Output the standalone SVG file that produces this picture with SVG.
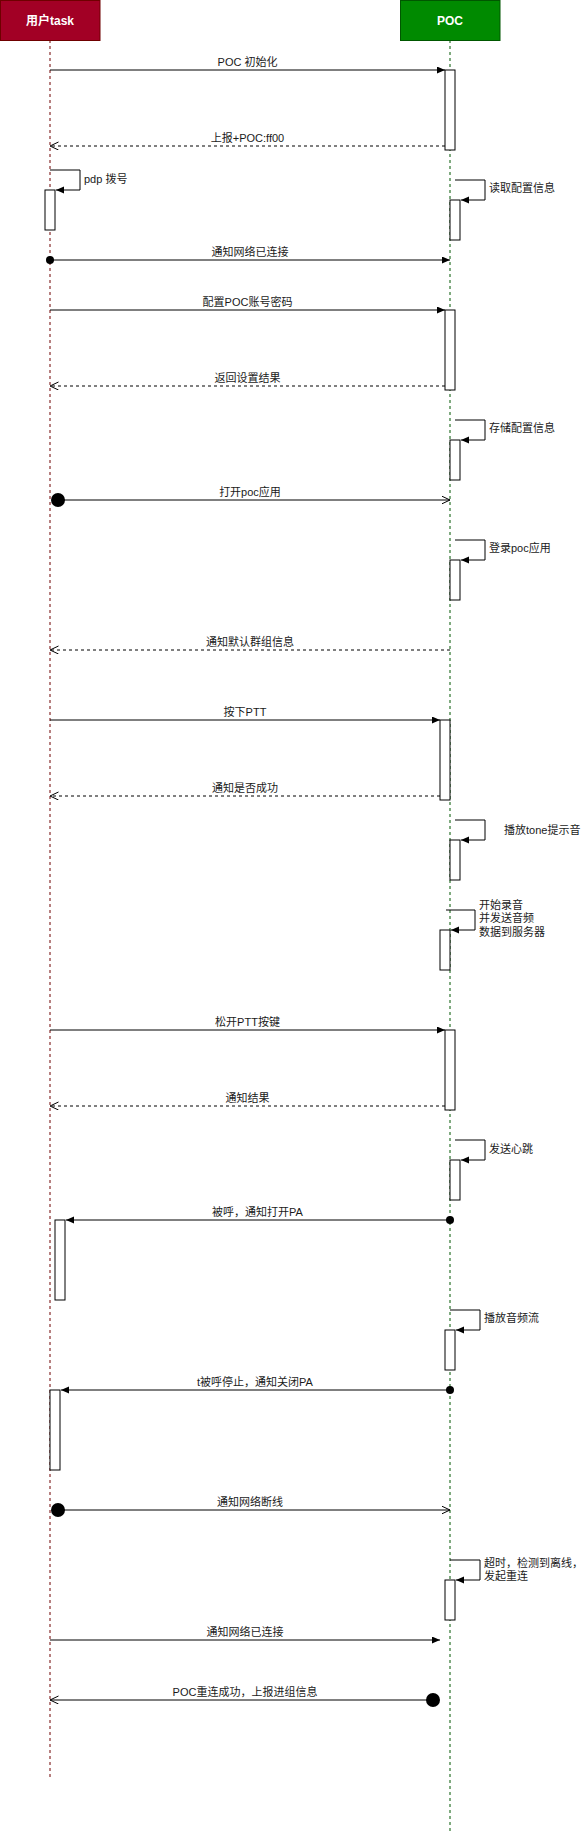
<svg xmlns="http://www.w3.org/2000/svg" width="584" height="1831" viewBox="0 0 584 1831">
<style>
.hdr{stroke-width:1}
.htxt{font-family:"Liberation Sans","Noto Sans CJK SC",sans-serif;font-size:12px;font-weight:bold;fill:#fff;text-anchor:middle}
.lbl{font-family:"Liberation Sans","Noto Sans CJK SC",sans-serif;font-size:11px;fill:#1a1a1a;text-anchor:middle}
.side{font-family:"Liberation Sans","Noto Sans CJK SC",sans-serif;font-size:11px;fill:#1a1a1a;text-anchor:start}
.act{fill:#fff;stroke:#000;stroke-width:1}
.msg{stroke:#000;stroke-width:1;fill:none}
.ret{stroke:#000;stroke-width:1;fill:none;stroke-dasharray:3 3}
.life{stroke-width:1;stroke-dasharray:3 3;fill:none}
</style>
<defs>
<marker id="block" markerUnits="userSpaceOnUse" markerWidth="10" markerHeight="9" refX="8" refY="3.5" orient="auto">
<path d="M0,0 L8,3.5 L0,7 z" fill="#000"/>
</marker>
<marker id="open" markerUnits="userSpaceOnUse" markerWidth="11" markerHeight="10" refX="8.5" refY="4" orient="auto">
<path d="M0,0 L8.5,4 L0,8" fill="none" stroke="#000" stroke-width="1"/>
</marker>
</defs>
<rect width="584" height="1831" fill="#fff"/>
<g id="user">
<line class="life" x1="50" y1="40" x2="50" y2="1778" stroke="#6F0000"/>
<rect class="hdr" x="0.5" y="0.5" width="99.5" height="40" fill="#a20025" stroke="#6F0000"/>
<text class="htxt" x="50" y="25">用户task</text>
</g>
<g id="poc">
<line class="life" x1="450" y1="40" x2="450" y2="1831" stroke="#005700"/>
<rect class="hdr" x="400.5" y="0.5" width="99.5" height="40" fill="#008a00" stroke="#005700"/>
<text class="htxt" x="450" y="25">POC</text>
</g>
<g id="activations">
<rect class="act" x="445" y="70" width="10" height="80"/>
<rect class="act" x="45" y="190" width="10" height="40"/>
<rect class="act" x="450" y="200" width="10" height="40"/>
<rect class="act" x="445" y="310" width="10" height="80"/>
<rect class="act" x="450" y="440" width="10" height="40"/>
<rect class="act" x="450" y="560" width="10" height="40"/>
<rect class="act" x="440" y="720" width="10" height="80"/>
<rect class="act" x="450" y="840" width="10" height="40"/>
<rect class="act" x="440" y="930" width="10" height="40"/>
<rect class="act" x="445" y="1030" width="10" height="80"/>
<rect class="act" x="450" y="1160" width="10" height="40"/>
<rect class="act" x="55" y="1220" width="10" height="80"/>
<rect class="act" x="445" y="1330" width="10" height="40"/>
<rect class="act" x="50" y="1390" width="10" height="80"/>
<rect class="act" x="445" y="1580" width="10" height="40"/>
</g>
<g id="connectors">
<line class="msg" x1="50" y1="70" x2="445" y2="70" marker-end="url(#block)"/>
<line class="ret" x1="445" y1="146" x2="50" y2="146" marker-end="url(#open)"/>
<polyline class="msg" points="50,170 80,170 80,190 56,190" marker-end="url(#block)"/>
<polyline class="msg" points="455,180 485,180 485,200 461,200" marker-end="url(#block)"/>
<circle cx="50" cy="260" r="4" fill="#000"/>
<line class="msg" x1="50" y1="260" x2="450" y2="260" marker-end="url(#block)"/>
<line class="msg" x1="50" y1="310" x2="445" y2="310" marker-end="url(#block)"/>
<line class="ret" x1="445" y1="386" x2="50" y2="386" marker-end="url(#open)"/>
<polyline class="msg" points="455,420 485,420 485,440 461,440" marker-end="url(#block)"/>
<circle cx="58" cy="500" r="7" fill="#000"/>
<line class="msg" x1="58" y1="500" x2="450" y2="500" marker-end="url(#open)"/>
<polyline class="msg" points="455,540 485,540 485,560 461,560" marker-end="url(#block)"/>
<line class="ret" x1="450" y1="650" x2="50" y2="650" marker-end="url(#open)"/>
<line class="msg" x1="50" y1="720" x2="440" y2="720" marker-end="url(#block)"/>
<line class="ret" x1="440" y1="796" x2="50" y2="796" marker-end="url(#open)"/>
<polyline class="msg" points="455,820 485,820 485,840 461,840" marker-end="url(#block)"/>
<polyline class="msg" points="446,910 475,910 475,930 451,930" marker-end="url(#block)"/>
<line class="msg" x1="50" y1="1030" x2="445" y2="1030" marker-end="url(#block)"/>
<line class="ret" x1="445" y1="1106" x2="50" y2="1106" marker-end="url(#open)"/>
<polyline class="msg" points="455,1140 485,1140 485,1160 461,1160" marker-end="url(#block)"/>
<circle cx="450" cy="1220" r="4" fill="#000"/>
<line class="msg" x1="450" y1="1220" x2="66" y2="1220" marker-end="url(#block)"/>
<polyline class="msg" points="450,1310 480,1310 480,1330 456,1330" marker-end="url(#block)"/>
<circle cx="450" cy="1390" r="4" fill="#000"/>
<line class="msg" x1="450" y1="1390" x2="61" y2="1390" marker-end="url(#block)"/>
<circle cx="58" cy="1510" r="7" fill="#000"/>
<line class="msg" x1="58" y1="1510" x2="450" y2="1510" marker-end="url(#open)"/>
<polyline class="msg" points="450,1560 480,1560 480,1580 456,1580" marker-end="url(#block)"/>
<line class="msg" x1="50" y1="1640" x2="440" y2="1640" marker-end="url(#block)"/>
<circle cx="433" cy="1700" r="7" fill="#000"/>
<line class="msg" x1="433" y1="1700" x2="50" y2="1700" marker-end="url(#open)"/>
</g>
<g id="labels">
<text class="lbl" x="247.5" y="66">POC 初始化</text>
<text class="lbl" x="247.5" y="142">上报+POC:ff00</text>
<text class="side" x="84" y="183">pdp 拨号</text>
<text class="side" x="489" y="192">读取配置信息</text>
<text class="lbl" x="250" y="256">通知网络已连接</text>
<text class="lbl" x="247.5" y="306">配置POC账号密码</text>
<text class="lbl" x="247.5" y="382">返回设置结果</text>
<text class="side" x="489" y="432">存储配置信息</text>
<text class="lbl" x="250" y="496">打开poc应用</text>
<text class="side" x="489" y="552">登录poc应用</text>
<text class="lbl" x="250" y="646">通知默认群组信息</text>
<text class="lbl" x="245" y="716">按下PTT</text>
<text class="lbl" x="245" y="792">通知是否成功</text>
<text class="side" x="504" y="834">播放tone提示音</text>
<text class="side" x="479" y="909">开始录音</text>
<text class="side" x="479" y="922">并发送音频</text>
<text class="side" x="479" y="935.5">数据到服务器</text>
<text class="lbl" x="247.5" y="1026">松开PTT按键</text>
<text class="lbl" x="247.5" y="1102">通知结果</text>
<text class="side" x="489" y="1153">发送心跳</text>
<text class="lbl" x="257.5" y="1216">被呼，通知打开PA</text>
<text class="side" x="484" y="1322">播放音频流</text>
<text class="lbl" x="255" y="1386">t被呼停止，通知关闭PA</text>
<text class="lbl" x="250" y="1506">通知网络断线</text>
<text class="side" x="484" y="1567">超时，检测到离线，</text>
<text class="side" x="484" y="1580">发起重连</text>
<text class="lbl" x="245" y="1636">通知网络已连接</text>
<text class="lbl" x="245" y="1696">POC重连成功，上报进组信息</text>
</g>
</svg>
